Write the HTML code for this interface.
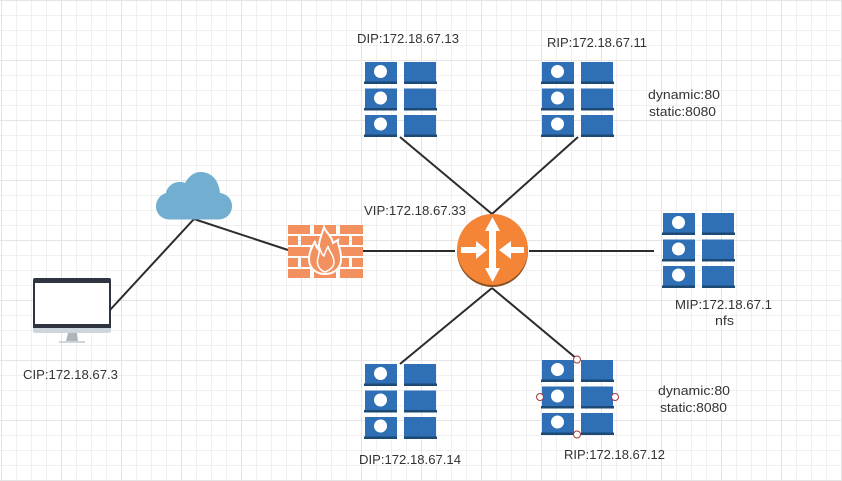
<!DOCTYPE html>
<html>
<head>
<meta charset="utf-8">
<style>
html,body{margin:0;padding:0;background:#fff;width:842px;height:481px;overflow:hidden}
svg{display:block}
text{font-family:"Liberation Sans",sans-serif;font-size:13px;fill:#333}
</style>
</head>
<body>
<svg width="842" height="481" viewBox="0 0 842 481" xmlns="http://www.w3.org/2000/svg">
<defs>
<pattern id="minor" x="1" y="0" width="15" height="15" patternUnits="userSpaceOnUse">
<path d="M0.5 0V15M0 0.5H15" stroke="#f0f0f0" stroke-width="1" fill="none"/>
</pattern>
<pattern id="major" x="1" y="0" width="60" height="60" patternUnits="userSpaceOnUse">
<path d="M0.5 0V60M0 0.5H60" stroke="#e4e4e4" stroke-width="1" fill="none"/>
</pattern>
<g id="srv">
<rect x="0" y="0" width="32" height="22" fill="#2e6fb5"/>
<rect x="-1" y="19.500" width="33" height="2.500" fill="#1c4a75"/>
<circle cx="15.500" cy="9.500" r="6.500" fill="#fff"/>
<rect x="39" y="0" width="32" height="22" fill="#2e6fb5"/>
<rect x="39" y="19.500" width="33" height="2.500" fill="#1c4a75"/>
<rect x="0" y="26.500" width="32" height="22" fill="#2e6fb5"/>
<rect x="-1" y="46" width="33" height="2.500" fill="#1c4a75"/>
<circle cx="15.500" cy="36" r="6.500" fill="#fff"/>
<rect x="39" y="26.500" width="32" height="22" fill="#2e6fb5"/>
<rect x="39" y="46" width="33" height="2.500" fill="#1c4a75"/>
<rect x="0" y="53" width="32" height="22" fill="#2e6fb5"/>
<rect x="-1" y="72.500" width="33" height="2.500" fill="#1c4a75"/>
<circle cx="15.500" cy="62" r="6.500" fill="#fff"/>
<rect x="39" y="53" width="32" height="22" fill="#2e6fb5"/>
<rect x="39" y="72.500" width="33" height="2.500" fill="#1c4a75"/>
</g>
</defs>

<rect width="842" height="481" fill="#fff"/>
<rect width="842" height="481" fill="url(#minor)"/>
<rect width="842" height="481" fill="url(#major)"/>

<!-- connectors -->
<g stroke="#2b2b2b" stroke-width="2" fill="none">
<polyline points="110,310 194,219 288,250"/>
<line x1="363" y1="251" x2="455" y2="251"/>
<line x1="529" y1="251" x2="654" y2="251"/>
<line x1="400" y1="137" x2="492" y2="214"/>
<line x1="578" y1="137" x2="492" y2="214"/>
<line x1="400" y1="364" x2="492" y2="288"/>
<line x1="577" y1="359" x2="492" y2="288"/>
</g>

<!-- servers -->
<use href="#srv" x="365" y="62"/>
<use href="#srv" x="542" y="62"/>
<use href="#srv" x="663" y="213"/>
<use href="#srv" x="365" y="364"/>
<use href="#srv" x="542" y="360"/>

<!-- selection handles -->
<g fill="#fff" stroke="#a33a3a" stroke-width="1">
<circle cx="577" cy="359.500" r="3.500"/>
<circle cx="540" cy="397" r="3.500"/>
<circle cx="615" cy="397" r="3.500"/>
<circle cx="577" cy="434.500" r="3.500"/>
</g>

<!-- cloud -->
<path d="M170 219.500C161 219.500 156 213 156 206.500C156 200 160 195 166 193C167 187 173 182 179 182C181 182 183 182 185 183C189 176 194 172 201 172C211 172 219 180 220 193C227 194 232 199 232 206C232 214 226 219.500 218 219.500Z" fill="#72aed0"/>

<!-- firewall -->
<g fill="#f2915f">
<rect x="288" y="225" width="22" height="9"/><rect x="314" y="225" width="22" height="9"/><rect x="340" y="225" width="23" height="9"/>
<rect x="288" y="236" width="10" height="9"/><rect x="301" y="236" width="23" height="9"/><rect x="327" y="236" width="22" height="9"/><rect x="352" y="236" width="11" height="9"/>
<rect x="288" y="247" width="22" height="9"/><rect x="314" y="247" width="22" height="9"/><rect x="340" y="247" width="23" height="9"/>
<rect x="288" y="258" width="10" height="9"/><rect x="301" y="258" width="23" height="9"/><rect x="327" y="258" width="22" height="9"/><rect x="352" y="258" width="11" height="9"/>
<rect x="288" y="269" width="22" height="9"/><rect x="314" y="269" width="22" height="9"/><rect x="340" y="269" width="23" height="9"/>
</g>
<path d="M324 227C326 233 332 236 333 243L338 240C337 244 341 249 341 257C342 268 334 274 325 274C316 274 309 268 309 259C309 252 312 248 315 241C315 245 317 248 319 250C318 242 322 234 324 227Z" fill="#f2915f" stroke="#fff" stroke-width="2"/>
<path d="M325 272C319 270 316 264 318 258C319 254 319 252 320 249C321 252 322 255 324 256C325 252 327 249 328 246C329 252 334 255 334 262C334 267 330 270 325 272Z" fill="#f2915f" stroke="#fff" stroke-width="1.500"/>

<!-- router -->
<circle cx="492.500" cy="251.500" r="35.500" fill="#8a4f20"/>
<circle cx="492.500" cy="249.500" r="35.500" fill="#f58536"/>
<g fill="#fff">
<path d="M492.500 217L500 231H496V268H500L492.500 282L485 268H489V231H485Z"/>
<path d="M461 247H476V241L487 250L476 259V253H461Z"/>
<path d="M524 247H511V241L499 250L511 259V253H524Z"/>
</g>

<!-- monitor -->
<path d="M33 280Q33 278 35 278H109Q111 278 111 280V328H33Z" fill="#2e3540"/>
<rect x="35" y="283" width="74" height="41" fill="#fff"/>
<path d="M33 328H111V331Q111 333 108 333H36Q33 333 33 331Z" fill="#cdd5dd"/>
<path d="M68 333H77L78 341H66Z" fill="#adb5bb"/>
<rect x="59" y="341" width="26" height="2" fill="#cdd5dd"/>

<!-- labels -->
<text x="357" y="43" textLength="102" lengthAdjust="spacingAndGlyphs">DIP:172.18.67.13</text>
<text x="547" y="47" textLength="100" lengthAdjust="spacingAndGlyphs">RIP:172.18.67.11</text>
<text x="648" y="99" textLength="72" lengthAdjust="spacingAndGlyphs">dynamic:80</text>
<text x="649" y="116" textLength="67" lengthAdjust="spacingAndGlyphs">static:8080</text>
<text x="364" y="215" textLength="102" lengthAdjust="spacingAndGlyphs">VIP:172.18.67.33</text>
<text x="675" y="309" textLength="97" lengthAdjust="spacingAndGlyphs">MIP:172.18.67.1</text>
<text x="715" y="325" textLength="19" lengthAdjust="spacingAndGlyphs">nfs</text>
<text x="23" y="379" textLength="95" lengthAdjust="spacingAndGlyphs">CIP:172.18.67.3</text>
<text x="658" y="395" textLength="72" lengthAdjust="spacingAndGlyphs">dynamic:80</text>
<text x="660" y="412" textLength="67" lengthAdjust="spacingAndGlyphs">static:8080</text>
<text x="359" y="464" textLength="102" lengthAdjust="spacingAndGlyphs">DIP:172.18.67.14</text>
<text x="564" y="459" textLength="101" lengthAdjust="spacingAndGlyphs">RIP:172.18.67.12</text>
</svg>
</body>
</html>
